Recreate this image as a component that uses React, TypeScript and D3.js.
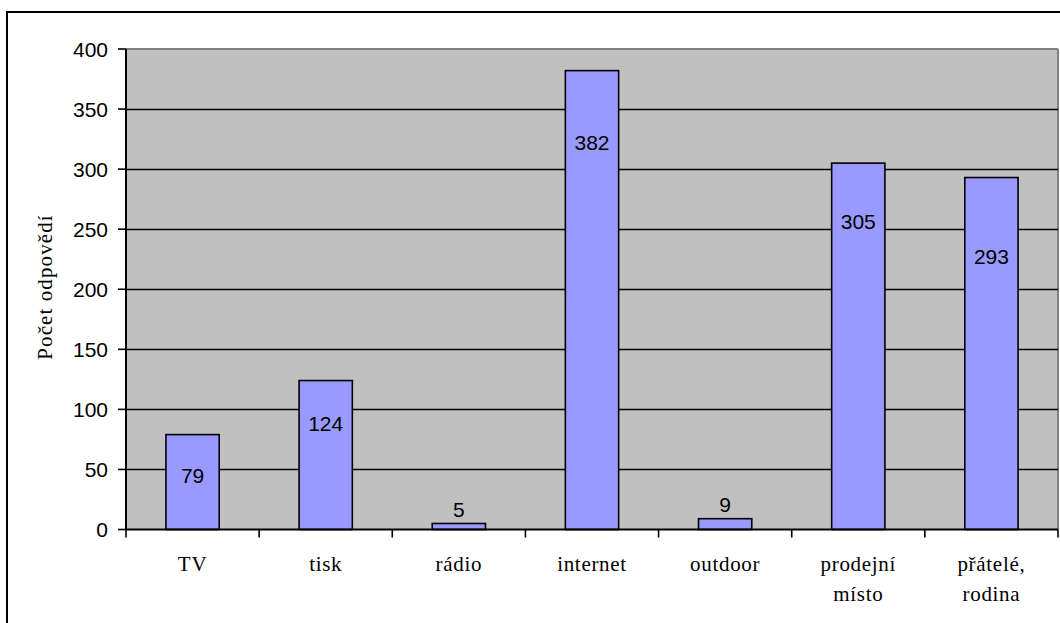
import React from "react";
import * as d3 from "d3";

const categories = ["TV", "tisk", "rádio", "internet", "outdoor", "prodejní|místo", "přátelé,|rodina"];
const values = [79, 124, 5, 382, 9, 305, 293];
const yTicks = [0, 50, 100, 150, 200, 250, 300, 350, 400];
const yTitle = "Počet odpovědí";
// label baseline offset below bar top (px), negative = above bar
const labelDrop = [48, 50, -6, 79, -7, 66, 86];

const W = 1060, H = 623;
const M = { left: 126, right: 1058, top: 49, bottom: 529.5 };
const SERIF = "'Liberation Serif', 'Times New Roman', serif";
const SANS = "'Liberation Sans', Arial, sans-serif";

export default function App() {
  const band = d3.scaleBand<string>().domain(categories).range([M.left, M.right]);
  const y = d3.scaleLinear().domain([0, 400]).range([M.bottom, M.top]);
  const bw = band.bandwidth() / 2.5;
  return (
    <svg width={W} height={H} style={{ position: "absolute", left: 0, top: 0 }}>
      <rect x={0} y={0} width={W} height={H} fill="#fff" />
      <rect x={7} y={12} width={1100} height={700} fill="none" stroke="#000" strokeWidth={2} />
      <rect x={M.left} y={M.top} width={M.right - M.left} height={M.bottom - M.top} fill="#C0C0C0" />
      <line x1={M.left} x2={M.right} y1={M.top} y2={M.top} stroke="#808080" strokeWidth={2} />
      <line x1={M.right} x2={M.right} y1={M.top} y2={M.bottom} stroke="#808080" strokeWidth={2} />
      {yTicks.filter(t => t > 0 && t < 400).map(t => (
        <line key={t} x1={M.left} x2={M.right} y1={Math.round(y(t)) + 0.5} y2={Math.round(y(t)) + 0.5} stroke="#000" strokeWidth={1.6} />
      ))}
      {categories.map((c, i) => {
        const cx = (band(c) as number) + band.bandwidth() / 2;
        const v = values[i];
        return (
          <g key={c}>
            <rect x={cx - bw / 2} y={y(v)} width={bw} height={M.bottom - y(v)} fill="#9999FF" stroke="#000" strokeWidth={1.6} />
            <text x={cx} y={y(v) + labelDrop[i]} textAnchor="middle" fontFamily={SANS} fontSize={21} fill="#000">{v}</text>
          </g>
        );
      })}
      <line x1={M.left} x2={M.left} y1={M.top} y2={M.bottom} stroke="#000" strokeWidth={2} />
      <line x1={M.left} x2={M.right} y1={M.bottom} y2={M.bottom} stroke="#000" strokeWidth={2} />
      {yTicks.map(t => (
        <g key={t}>
          <line x1={M.left - 8} x2={M.left} y1={y(t)} y2={y(t)} stroke="#000" strokeWidth={1.6} />
          <text x={M.left - 18} y={y(t)} dy="0.36em" textAnchor="end" fontFamily={SANS} fontSize={21} fill="#000">{t}</text>
        </g>
      ))}
      {d3.range(categories.length + 1).map(i => {
        const xx = M.left + i * band.bandwidth();
        return <line key={i} x1={xx} x2={xx} y1={M.bottom} y2={M.bottom + 8} stroke="#000" strokeWidth={1.6} />;
      })}
      {categories.map(c => {
        const cx = (band(c) as number) + band.bandwidth() / 2;
        return (
          <text key={c} x={cx} y={570.5} textAnchor="middle" fontFamily={SERIF} fontSize={21} letterSpacing={0.7} fill="#000">
            {c.split("|").map((s, j) => (
              <tspan key={j} x={cx} dy={j === 0 ? 0 : 30}>{s}</tspan>
            ))}
          </text>
        );
      })}
      <text transform={`translate(52,287) rotate(-90)`} textAnchor="middle" fontFamily={SERIF} fontSize={21} letterSpacing={1.1} fill="#000">{yTitle}</text>
    </svg>
  );
}
